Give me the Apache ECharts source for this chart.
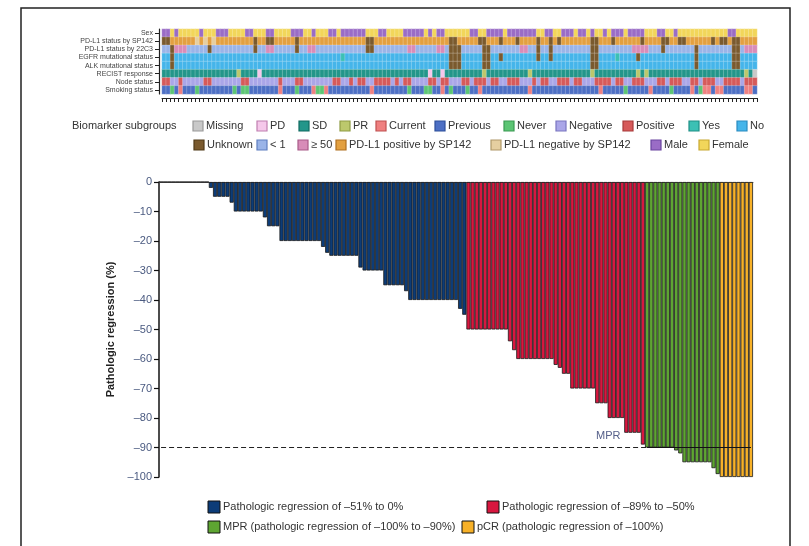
<!DOCTYPE html>
<html><head><meta charset="utf-8">
<script src="https://cdn.jsdelivr.net/npm/echarts@6/dist/echarts.min.js"></script>
<style>html,body{margin:0;padding:0;background:#fff}#c{width:809px;height:546px}</style>
</head><body><div id="c"></div>
<script>
// ---- Waterfall data: pathologic regression (%) per patient, sorted ----
const regression = [
 0,0,0,0,0,0,0,0,0,0,0,0,
 -2,-5,-5,-5,-5,-7,-10,-10,-10,-10,-10,-10,-10,-12,-15,-15,-15,
 -20,-20,-20,-20,-20,-20,-20,-20,-20,-20,-22,-24,
 -25,-25,-25,-25,-25,-25,-25,-29,-30,-30,-30,-30,-30,
 -35,-35,-35,-35,-35,-37,
 -40,-40,-40,-40,-40,-40,-40,-40,-40,-40,-40,-40,-43,-45,
 -50,-50,-50,-50,-50,-50,-50,-50,-50,-50,-54,-57,
 -60,-60,-60,-60,-60,-60,-60,-60,-60,-62,-63,-65,-65,
 -70,-70,-70,-70,-70,-70,-75,-75,-75,-80,-80,-80,-80,-85,-85,-85,-85,-89,
 -90,-90,-90,-90,-90,-90,-90,-91,-92,-95,-95,-95,-95,-95,-95,-95,-97,-99,
 -100,-100,-100,-100,-100,-100,-100,-100
];
const yTicks = [0,-10,-20,-30,-40,-50,-60,-70,-80,-90,-100];
const mprThreshold = -90;

// ---- Biomarker heatmap (run-length codes, one string per row, left to right) ----
const rowLabels = ["Sex","PD-L1 status by SP142","PD-L1 status by 22C3","EGFR mutational status",
  "ALK mutational status","RECIST response","Node status","Smoking status"];
const rowSex    = "M2 F1 M1 F5 M1 F3 M3 F4 M2 F3 M2 F4 M3 F2 M1 F3 M2 F1 M6 F3 M2 F4 M5 F1 M1 F1 M2 F6 M2 F2 M4 F1 M7 F2 M2 F2 M3 F1 M2 F1 M1 F2 M1 F1 M3 F1 M4 F3 M2 F2 M1 F12 M2 F5";
const rowSP142  = "U2 O6 T1 O1 T1 O1 T1 O9 U1 O2 U2 O5 U1 O16 U2 O18 U2 O5 U2 O3 U1 O3 U1 O4 U1 O2 U1 O1 U1 O7 U2 O3 U1 O6 U1 O4 U2 O2 U2 O6 U1 O1 U2 O1 U2 O4";
const row22C3   = "L2 U1 H3 L5 U1 L10 U1 L2 H2 L5 U1 L2 H2 L12 U2 L8 H2 L5 H2 L1 U3 L5 U2 L7 H2 L2 U1 L2 U1 L9 U2 L8 H4 L3 U1 L7 U1 L8 U2 L1 H3";
const rowEGFR   = "N2 U1 N40 Y1 N25 U3 N5 U2 N2 U1 N8 U1 N2 U1 N9 U2 N4 Y1 N4 U1 N13 U1 N8 U2 N4";
const rowALK    = "N2 U1 N66 U3 N5 U2 N24 U2 N23 U1 N8 U2 N4";
const rowRECIST = "S18 R1 S4 D1 S40 D1 S2 D1 S9 R1 S10 R1 S14 R1 S10 R1 S1 R1 S23 R1 S1 X1";
const rowNode   = "p2 n2 p1 n5 p2 n7 p2 n7 p1 n3 p2 n7 p2 n2 p1 n1 p2 n2 p4 n1 p1 n1 p2 n4 p2 n1 p2 n3 p2 n1 p3 n1 p2 n2 p3 n3 p1 n1 p2 n2 p3 n1 p2 n3 p4 n1 p2 n2 p3 n3 p2 n1 p3 n2 p2 n1 p3 n2 p4 n1 p3";
const rowSmoke  = "B2 G1 B1 C1 B3 G1 B8 G1 B1 G2 B7 C1 B3 G1 B3 C1 G2 C1 B10 C1 B8 G1 B3 G2 B2 C1 B1 G1 B3 G1 B2 C1 B11 C1 B16 C1 B5 G1 B5 C1 B4 G1 B4 C1 B1 G1 C2 B1 C2 B5 C2 B1";

// category legend (code, label, fill, outline)
const subgroupCodes  = ["X","D","S","R","C","B","G","n","p","Y","N","U","L","H","O","T","M","F"];
const subgroupLabels = ["Missing","PD","SD","PR","Current","Previous","Never","Negative","Positive","Yes","No",
  "Unknown","< 1","\u2265 50","PD-L1 positive by SP142","PD-L1 negative by SP142","Male","Female"];
const subgroupFill   = ["#c9c9c9","#f5c8ea","#23968a","#bcc86c","#ef8080","#4d6fc4","#5cc574","#aaa6e8","#d65a5a",
  "#3cc0b4","#45b5ea","#7a5a2e","#9ab4e8","#d88cb8","#e3a040","#e6cfa0","#9a6cc6","#f2d65a"];
const subgroupLine   = ["#999","#c07fb0","#0f6a60","#8f9c44","#c05050","#2d4f9a","#3a9a52","#7a76c0","#a83a3a",
  "#1f8f86","#2a8bc0","#503a18","#5f7fc0","#a85a88","#b07020","#b09868","#6a44a0","#c8a830"];

// bottom legend
const groupLabels = ["Pathologic regression of \u201351% to 0%","Pathologic regression of \u201389% to \u201350%",
  "MPR (pathologic regression of \u2013100% to \u201390%)","pCR (pathologic regression of \u2013100%)"];
const groupColors = ["#0c3c78","#d8173f","#5ea532","#f7b128"];

function expand(runs){
  const out=[];
  runs.trim().split(/\s+/).forEach(t=>{const c=t[0],n=parseInt(t.slice(1));for(let i=0;i<n;i++)out.push(c);});
  return out;
}
const rows=[rowSex,rowSP142,row22C3,rowEGFR,rowALK,rowRECIST,rowNode,rowSmoke].map(expand);
const N = regression.length;
const cats = regression.map((_,i)=>String(i+1));
const heatData=[];
rows.forEach((r,ri)=>{ for(let i=0;i<Math.min(N,r.length);i++) heatData.push([i,ri,subgroupCodes.indexOf(r[i])]); });

function groupOf(v){ if(v<=-100) return 3; if(v<=-90) return 2; if(v<=-50) return 1; return 0; }
const barData = regression.map(v=>({value:v,itemStyle:{color:groupColors[groupOf(v)]}}));
const firstMPR = regression.findIndex(v=>v<=mprThreshold);

// graphic legends
const FONT='"Liberation Sans", Arial, sans-serif';
const g=[];
g.push({type:'rect',shape:{x:21,y:8,width:769,height:560},style:{fill:'none',stroke:'#222',lineWidth:1.5},silent:true});
g.push({type:'text',x:72,y:126,style:{text:'Biomarker subgroups',font:'11px '+FONT,fill:'#333',textVerticalAlign:'middle'}});
const legX=[193,257,299,340,376,435,504,556,623,689,737, 194,257,298,336,491,651,699];
subgroupLabels.forEach((lab,i)=>{
  const y = i<11?126:145;
  g.push({type:'rect',shape:{x:legX[i],y:y-5,width:10,height:10},style:{fill:subgroupFill[i],stroke:subgroupLine[i],lineWidth:1.2}});
  g.push({type:'text',x:legX[i]+13,y:y,style:{text:lab,font:'11px '+FONT,fill:'#333',textVerticalAlign:'middle'}});
});
const gl=[[208,507],[487,507],[208,527],[462,527]];
groupLabels.forEach((lab,i)=>{
  g.push({type:'rect',shape:{x:gl[i][0],y:gl[i][1]-6,width:12,height:12},style:{fill:groupColors[i],stroke:'#111',lineWidth:1}});
  g.push({type:'text',x:gl[i][0]+15,y:gl[i][1],style:{text:lab,font:'11px '+FONT,fill:'#333',textVerticalAlign:'middle'}});
});
g.push({type:'text',x:596,y:436,style:{text:'MPR',font:'11px '+FONT,fill:'#56608a',textVerticalAlign:'middle'}});

const chart=echarts.init(document.getElementById('c'),null,{renderer:'canvas'});
chart.setOption({
  animation:false,
  backgroundColor:'#fff',
  textStyle:{fontFamily:FONT},
  grid:[
    {left:159,right:56,top:182,bottom:69},
    {left:162,right:52,top:29,height:65}
  ],
  xAxis:[
    {type:'category',gridIndex:0,data:cats,boundaryGap:true,
      axisLine:{onZero:true,lineStyle:{color:'#666',width:1}},axisTick:{show:false},axisLabel:{show:false},splitLine:{show:false}},
    {type:'category',gridIndex:1,data:cats,position:'bottom',offset:4,
      axisLine:{show:true,lineStyle:{color:'#222',width:1}},axisTick:{show:true,interval:0,length:4,lineStyle:{color:'#222'}},
      axisLabel:{show:false},splitLine:{show:false}}
  ],
  yAxis:[
    {type:'value',gridIndex:0,min:-100,max:0,interval:10,
      name:'Pathologic regression (%)',nameLocation:'middle',nameGap:38,
      nameTextStyle:{fontSize:11,fontWeight:'bold',color:'#222'},
      axisLine:{show:true,lineStyle:{color:'#111',width:1.5}},
      axisTick:{show:true,length:5,lineStyle:{color:'#111',width:1.2}},
      axisLabel:{fontSize:11,color:'#4a5a80',margin:7,formatter:v=>String(v).replace('-','\u2013')},
      splitLine:{show:false}},
    {type:'category',gridIndex:1,data:rowLabels,inverse:true,offset:3,
      axisLine:{show:true,lineStyle:{color:'#222',width:1.2}},
      axisTick:{show:true,alignWithLabel:true,interval:0,length:4,lineStyle:{color:'#222'}},
      axisLabel:{fontSize:7,color:'#444',margin:6,interval:0},splitLine:{show:false}}
  ],
  visualMap:{type:'piecewise',show:false,seriesIndex:1,dimension:2,
    pieces:subgroupCodes.map((c,i)=>({value:i,color:subgroupFill[i]}))},
  series:[
    {type:'bar',xAxisIndex:0,yAxisIndex:0,data:barData,barCategoryGap:'0%',
      itemStyle:{borderColor:'#1b1b1b',borderWidth:0.8},
      markLine:{silent:true,symbol:'none',label:{show:false},
        data:[
          [{coord:[0,mprThreshold],lineStyle:{type:[5,3],color:'#222',width:1.2}},{coord:[N-1,mprThreshold]}],
          [{coord:[firstMPR,mprThreshold],lineStyle:{type:'solid',color:'#111',width:1.2}},{coord:[N-1,mprThreshold]}]
        ]}},
    {type:'heatmap',xAxisIndex:1,yAxisIndex:1,data:heatData,
      itemStyle:{borderColor:'rgba(255,255,255,0.45)',borderWidth:0.5}}
  ],
  graphic:g
});
</script></body></html>
